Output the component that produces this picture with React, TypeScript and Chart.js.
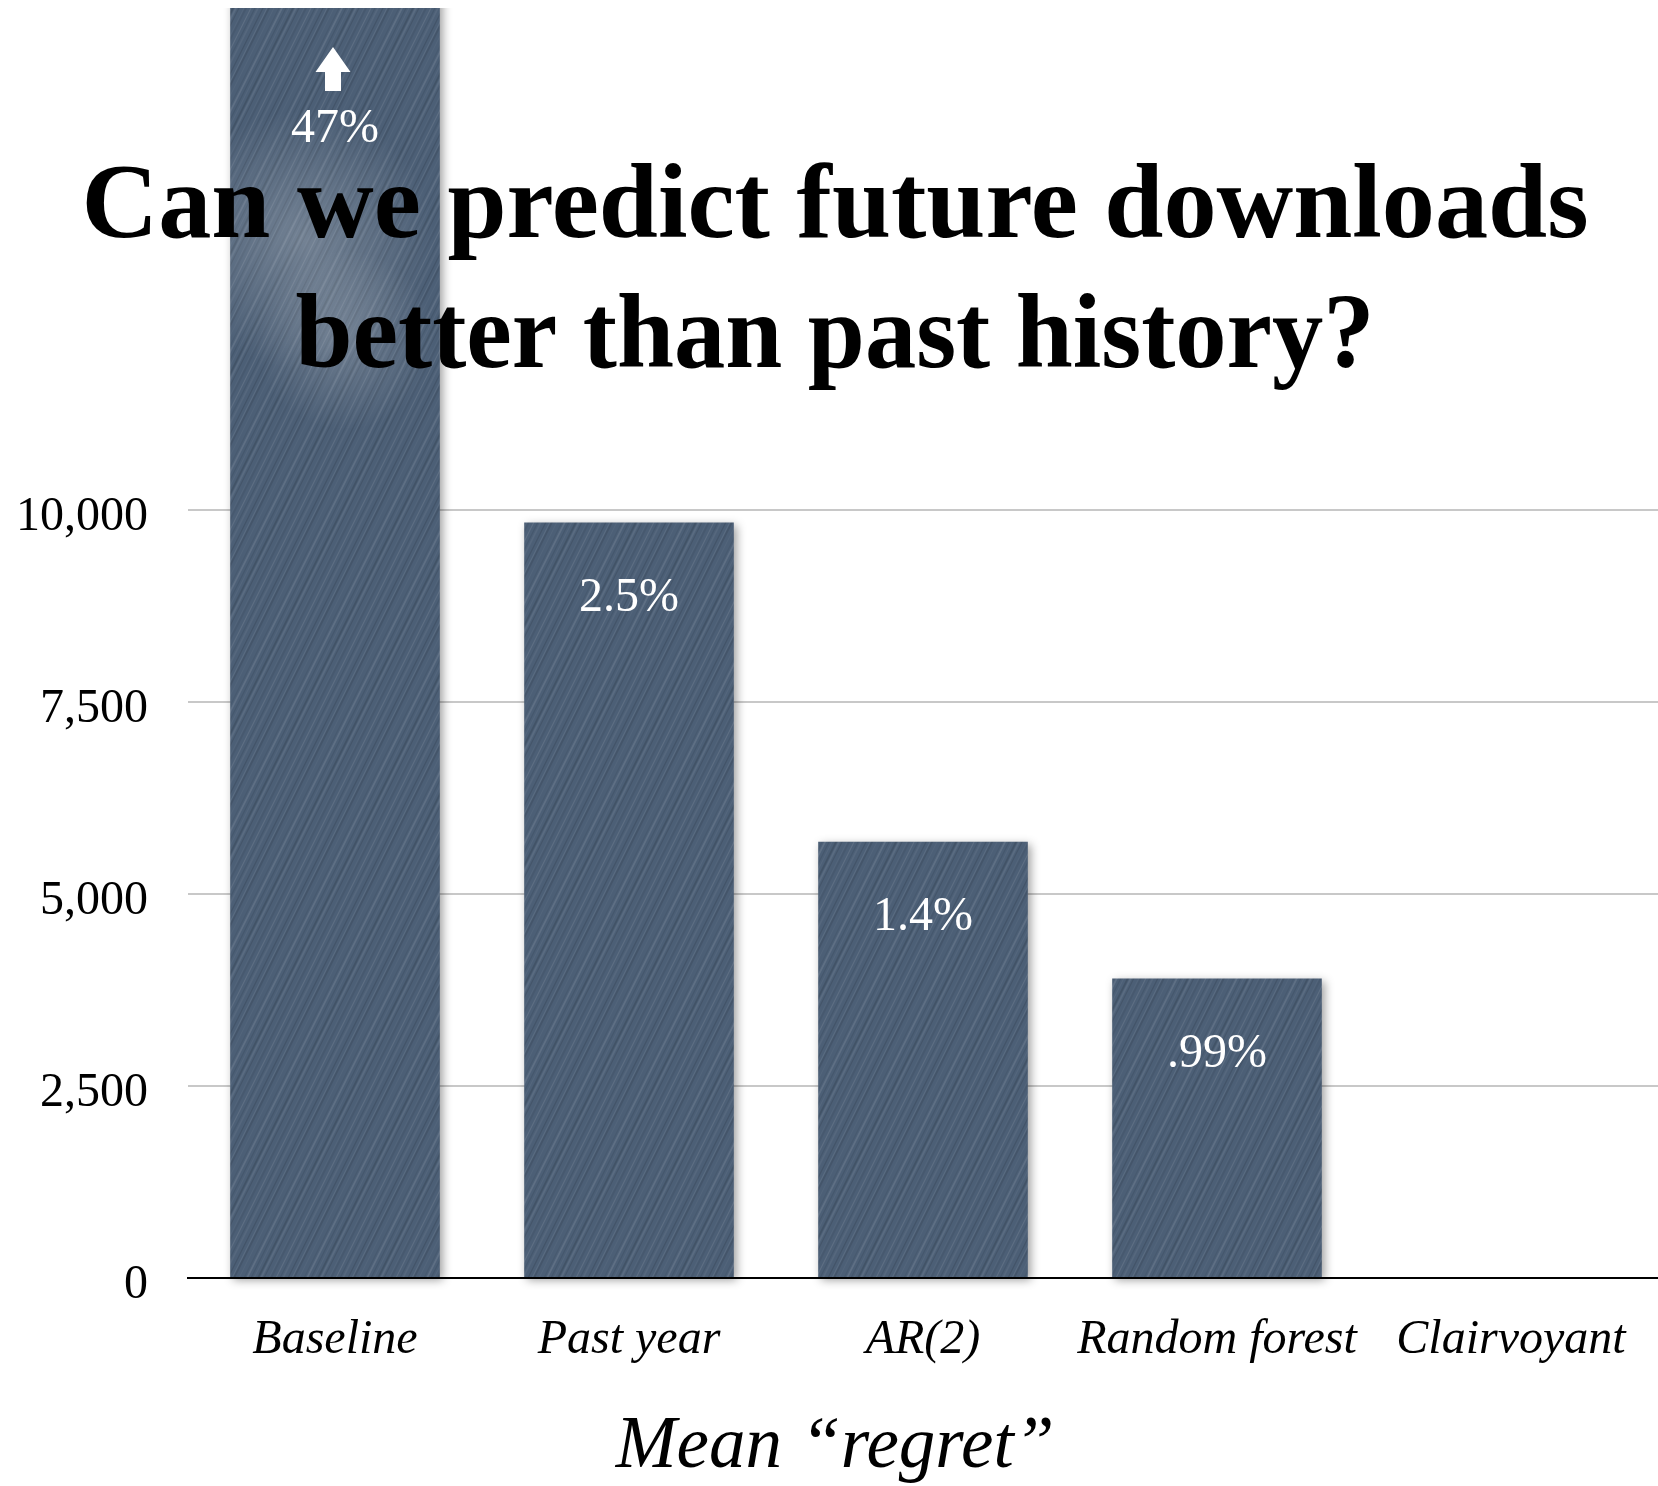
import React, { useEffect, useRef } from 'react';
import { Chart, registerables } from 'chart.js';

Chart.register(...registerables);

// ---- data ----
const categories = ['Baseline', 'Past year', 'AR(2)', 'Random forest', 'Clairvoyant'];
const meanRegret = [185000, 9840, 5680, 3900, 0];
const shareLabels = ['47%', '2.5%', '1.4%', '.99%', ''];
const yTickValues = [0, 2500, 5000, 7500, 10000];
const titleLines = ['Can we predict future downloads', 'better than past history?'];
const xAxisTitle = 'Mean \u201Cregret\u201D';

// ---- styling ----
const W = 1658;
const H = 1486;
const SERIF = "'Liberation Serif', 'Times New Roman', serif";
const BAR = '#4c5f76';
const STREAK_OFFSETS = [0, 3, 8, 10, 15, 19, 22, 27, 31, 33, 38, 43, 46, 50, 53, 57];
const STREAK_STYLES = [
  'rgba(255,255,255,0.08)',
  'rgba(0,0,0,0.10)',
  'rgba(255,255,255,0.04)',
  'rgba(0,0,0,0.06)',
  'rgba(255,255,255,0.10)',
  'rgba(0,0,0,0.08)',
  'rgba(255,255,255,0.05)',
  'rgba(0,0,0,0.12)',
];

function makePattern(): CanvasPattern | string {
  const TW = 60;
  const TH = 120;
  const c = document.createElement('canvas');
  c.width = TW;
  c.height = TH;
  const g = c.getContext('2d');
  if (!g) return BAR;
  g.fillStyle = BAR;
  g.fillRect(0, 0, TW, TH);
  g.lineCap = 'round';
  STREAK_OFFSETS.forEach((o, i) => {
    g.strokeStyle = STREAK_STYLES[i % STREAK_STYLES.length];
    g.lineWidth = i % 3 === 0 ? 1.8 : 1.1;
    for (let k = -2; k <= 2; k++) {
      const ox = o + k * TW;
      g.beginPath();
      g.moveTo(ox, TH);
      g.lineTo(ox + TW, 0);
      g.stroke();
    }
  });
  return g.createPattern(c, 'repeat') || BAR;
}

const overlayPlugin = {
  id: 'overlay',
  beforeDatasetsDraw(chart: any) {
    const ctx = chart.ctx;
    ctx.save();
    ctx.shadowColor = 'rgba(0,0,0,0.38)';
    ctx.shadowBlur = 10;
    ctx.shadowOffsetX = 3;
    ctx.shadowOffsetY = 3;
  },
  afterDatasetsDraw(chart: any) {
    const ctx = chart.ctx;
    ctx.restore();
    const meta = chart.getDatasetMeta(0);
    const area = chart.chartArea;
    const yMax = chart.scales.y.max;
    meta.data.forEach((bar: any, i: number) => {
      const text = shareLabels[i];
      if (!text) return;
      const { x, y, width } = bar.getProps(['x', 'y', 'width'], true);
      const offScale = meanRegret[i] > yMax;
      const top = Math.max(y, area.top);
      if (offScale) {
        // soft highlight on the off-scale bar
        ctx.save();
        ctx.beginPath();
        ctx.rect(x - width / 2, area.top, width, area.bottom - area.top);
        ctx.clip();
        const gr = ctx.createRadialGradient(x - 30, 240, 0, x - 30, 240, 130);
        gr.addColorStop(0, 'rgba(255,255,255,0.22)');
        gr.addColorStop(1, 'rgba(255,255,255,0)');
        ctx.fillStyle = gr;
        ctx.fillRect(x - width / 2, 80, width, 320);
        const gr2 = ctx.createRadialGradient(x + 10, 340, 0, x + 10, 340, 90);
        gr2.addColorStop(0, 'rgba(255,255,255,0.18)');
        gr2.addColorStop(1, 'rgba(255,255,255,0)');
        ctx.fillStyle = gr2;
        ctx.fillRect(x - width / 2, 240, width, 200);
        ctx.restore();
        // up arrow
        const ax = x - 2;
        const t = area.top + 39;
        ctx.save();
        ctx.fillStyle = '#ffffff';
        ctx.beginPath();
        ctx.moveTo(ax, t);
        ctx.lineTo(ax + 17.5, t + 25);
        ctx.lineTo(ax + 8, t + 25);
        ctx.lineTo(ax + 8, t + 44);
        ctx.lineTo(ax - 8, t + 44);
        ctx.lineTo(ax - 8, t + 25);
        ctx.lineTo(ax - 17.5, t + 25);
        ctx.closePath();
        ctx.fill();
        ctx.restore();
      }
      ctx.save();
      ctx.fillStyle = '#ffffff';
      ctx.font = `48px ${SERIF}`;
      ctx.textAlign = 'center';
      ctx.textBaseline = 'middle';
      ctx.fillText(text, x, top + (offScale ? 121 : 76));
      ctx.restore();
    });
  },
  afterDraw(chart: any) {
    const ctx = chart.ctx;
    // axis title, centred on the page like the reference
    ctx.save();
    ctx.fillStyle = '#000000';
    ctx.font = `italic 73px ${SERIF}`;
    ctx.textAlign = 'center';
    ctx.textBaseline = 'alphabetic';
    ctx.fillText(xAxisTitle, 835, 1467);
    ctx.restore();

    // chart title overlaid on the plot
    const baselines = [237, 367];
    const widths = [1507, 1079];
    ctx.save();
    ctx.fillStyle = '#000000';
    ctx.font = `bold 105px ${SERIF}`;
    ctx.textAlign = 'center';
    ctx.textBaseline = 'alphabetic';
    titleLines.forEach((line, i) => {
      const m = ctx.measureText(line).width;
      ctx.save();
      ctx.translate(835, baselines[i]);
      ctx.scale(widths[i] / m, 1);
      ctx.fillText(line, 0, 0);
      ctx.restore();
    });
    ctx.restore();
  },
};

export default function App() {
  const ref = useRef<HTMLCanvasElement>(null);

  useEffect(() => {
    const canvas = ref.current;
    if (!canvas) return;
    const pattern = makePattern();
    const chart = new Chart(canvas, {
      type: 'bar',
      data: {
        labels: categories,
        datasets: [
          {
            data: meanRegret,
            backgroundColor: pattern as any,
            borderWidth: 0,
            barPercentage: 0.713,
            categoryPercentage: 1,
            clip: { left: false, right: false, top: 0, bottom: false } as any,
          },
        ],
      },
      options: {
        animation: false,
        responsive: false,
        maintainAspectRatio: false,
        layout: { padding: { top: 8, left: 0, right: 0, bottom: 0 } },
        plugins: {
          legend: { display: false },
          title: { display: false },
          tooltip: { enabled: false },
        },
        scales: {
          x: {
            grid: { display: false, drawTicks: false },
            border: { display: true, color: '#000000', width: 2 },
            ticks: {
              font: { family: SERIF, size: 48, style: 'italic' },
              color: '#000000',
              padding: 34,
              maxRotation: 0,
              autoSkip: false,
            },
            title: { display: false },
            afterFit: (s: any) => {
              s.height = 208;
              s.paddingLeft = 0;
              s.paddingRight = 0;
              s.paddingTop = 0;
              s.paddingBottom = 0;
            },
          },
          y: {
            min: 0,
            max: 16540,
            grid: {
              color: (c: any) => (c.tick && c.tick.value === 0 ? '#000000' : '#c8c8c8'),
              lineWidth: 2,
              drawTicks: false,
            },
            border: { display: false },
            ticks: {
              font: { family: SERIF, size: 48 },
              color: '#000000',
              padding: 40,
              labelOffset: 7,
              callback: (v: any) => Number(v).toLocaleString('en-US'),
            },
            afterBuildTicks: (s: any) => {
              s.ticks = yTickValues.map((v) => ({ value: v }));
            },
            afterFit: (s: any) => {
              s.width = 188;
              s.paddingTop = 0;
              s.paddingBottom = 0;
              s.paddingLeft = 0;
              s.paddingRight = 0;
            },
          },
        },
      },
      plugins: [overlayPlugin],
    });
    return () => chart.destroy();
  }, []);

  return (
    <div style={{ position: 'fixed', left: 0, top: 0, width: W, height: H, background: '#ffffff' }}>
      <canvas ref={ref} width={W} height={H} style={{ display: 'block', width: W, height: H }} />
    </div>
  );
}
